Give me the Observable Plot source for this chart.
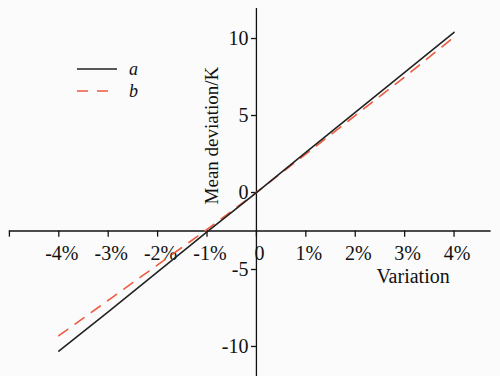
<!DOCTYPE html>
<html>
<head>
<meta charset="utf-8">
<script src="https://cdn.jsdelivr.net/npm/d3@7"></script>
<script src="https://cdn.jsdelivr.net/npm/@observablehq/plot@0.6"></script>
<style>
  html, body { margin: 0; padding: 0; background: #fbfbfb; }
  #wrap { position: relative; width: 500px; height: 376px; font-family: "Liberation Serif", "DejaVu Serif", serif; }
  #legend { position: absolute; left: 77px; top: 58px; font-size: 18px; font-style: italic; color: #111; }
  .row { display: flex; align-items: center; height: 22px; }
  .row svg { margin-right: 12px; }
</style>
</head>
<body>
<div id="wrap"><div id="chart"></div>
  <div id="legend">
    <div class="row"><svg width="40" height="6"><line x1="0" y1="3" x2="40" y2="3" stroke="#222" stroke-width="1.6"/></svg>a</div>
    <div class="row"><svg width="40" height="6"><line x1="0" y1="3" x2="40" y2="3" stroke="#ee5a3e" stroke-width="1.6" stroke-dasharray="11,9"/></svg>b</div>
  </div>
</div>
<script>
const variation = [-4, -3, -2, -1, 0, 1, 2, 3, 4];
const seriesA = [-10.3, -7.75, -5.15, -2.55, 0, 2.6, 5.2, 7.8, 10.4];
const seriesB = [-9.3, -7.0, -4.7, -2.4, 0, 2.5, 5.0, 7.5, 10.1];
const xTicks = [-5, -4, -3, -2, -1, 0, 1, 2, 3, 4];
const xTickLabels = [-4, -3, -2, -1, 0, 1, 2, 3, 4];
const yTicks = [-10, -5, 0, 5, 10];
const xAxisAt = -2.5;
const xLabel = "Variation";
const yLabel = "Mean deviation/K";

const lineData = variation.flatMap((v, i) => [
  {x: v, y: seriesA[i], s: "a"},
  {x: v, y: seriesB[i], s: "b"}
]);

const font = "Liberation Serif";
const chart = Plot.plot({
  width: 500,
  height: 376,
  margin: 0,
  style: {background: "transparent", fontFamily: font, fontSize: "20px", color: "#111"},
  x: {domain: [-5.18, 4.94], axis: null},
  y: {domain: [-11.95, 12.47], axis: null},
  marks: [
    // x axis line
    Plot.ruleY([xAxisAt], {x1: -5.0, x2: 4.75, stroke: "#111", strokeWidth: 1.3}),
    // y axis line
    Plot.ruleX([0], {y1: -11.95, y2: 11.95, stroke: "#111", strokeWidth: 1.3}),
    // x ticks
    Plot.ruleX(xTicks, {y1: xAxisAt, y2: xAxisAt - 0.4, stroke: "#111", strokeWidth: 1.3}),
    Plot.text(xTickLabels, {x: d => d, y: xAxisAt, dy: 23, dx: 3, text: d => d === 0 ? "0" : d + "%", fontSize: 20, fill: "#111"}),
    // y ticks
    Plot.ruleY(yTicks, {x1: -0.1, x2: 0, stroke: "#111", strokeWidth: 1.3}),
    Plot.text(yTicks, {x: 0, y: d => d, dx: -8, textAnchor: "end", text: d => String(d), fontSize: 20, fill: "#111"}),
    // axis titles
    Plot.text([xLabel], {x: 3.17, y: xAxisAt, dy: 46, text: d => d, fontSize: 20, fill: "#111"}),
    Plot.text([yLabel], {x: 0, y: 3.7, dx: -45, rotate: -90, text: d => d, fontSize: 19, fill: "#111"}),
    // series
    Plot.line(lineData.filter(d => d.s === "b"), {x: "x", y: "y", stroke: "#ee5a3e", strokeWidth: 1.6, strokeDasharray: "11,9"}),
    Plot.line(lineData.filter(d => d.s === "a"), {x: "x", y: "y", stroke: "#222", strokeWidth: 1.6})
  ]
});
document.getElementById("chart").appendChild(chart);
</script>
</body>
</html>
